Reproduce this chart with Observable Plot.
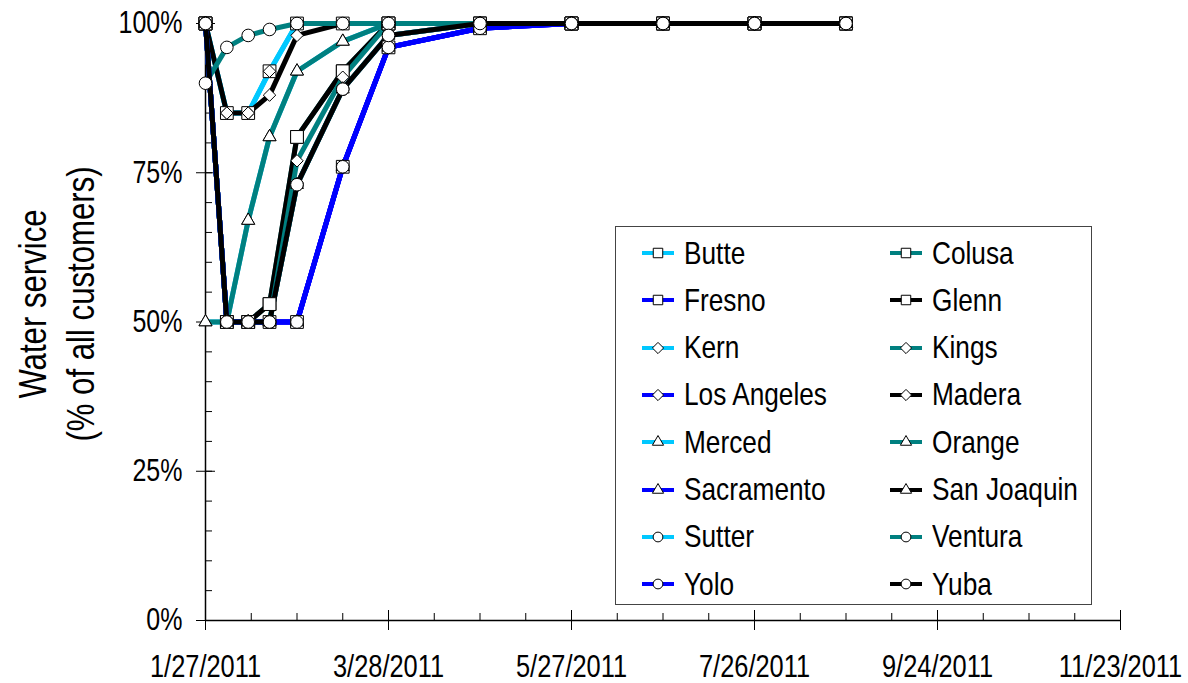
<!DOCTYPE html>
<html><head><meta charset="utf-8">
<script src="https://cdn.jsdelivr.net/npm/d3@7"></script>
<script src="https://cdn.jsdelivr.net/npm/@observablehq/plot@0.6"></script>
<style>
body{margin:0;background:#fff;}
#wrap{position:relative;width:1188px;height:683px;font-family:"Liberation Sans",Arial,sans-serif;}
#legend{position:absolute;left:615px;top:226px;width:477px;height:379px;border:1.5px solid #444;box-sizing:border-box;background:#fff}
.item{position:absolute;display:flex;align-items:center;height:40px;font-size:32px;color:#000;white-space:nowrap}
.item svg{margin-right:8px;flex:none}
.item span{display:inline-block;transform:scaleX(0.82);transform-origin:left center}
</style></head><body><div id="wrap"></div>
<script>
// ---- data ----
const dates = ["2011-01-27","2011-02-03","2011-02-10","2011-02-17","2011-02-26","2011-03-13","2011-03-28","2011-04-27","2011-05-27","2011-06-26","2011-07-26","2011-08-25"];
const counties = ["Butte","Colusa","Fresno","Glenn","Kern","Kings","Los Angeles","Madera","Merced","Orange","Sacramento","San Joaquin","Sutter","Ventura","Yolo","Yuba"];
const colors = ["#00C8FF","#008080","#0000FF","#000000","#00C8FF","#008080","#0000FF","#000000","#00C8FF","#008080","#0000FF","#000000","#00C8FF","#008080","#0000FF","#000000"];
const symbols = ["square","square","square","square","diamond2","diamond2","diamond2","diamond2","triangle2","triangle2","triangle2","triangle2","circle","circle","circle","circle"];

const butte       = [100, 85, 85, 92, 100, 100, 100, 100, 100, 100, 100, 100];
const colusa      = [100, 50, 50, 53, 81, 92, 100, 100, 100, 100, 100, 100];
const fresno      = [100, 50, 50, 50, 50, 76, 96, 99.2, 100, 100, 100, 100];
const glenn       = [100, 50, 50, 53, 81, 92, 100, 100, 100, 100, 100, 100];
const kern        = [100, 85, 85, 92, 100, 100, 100, 100, 100, 100, 100, 100];
const kings       = [100, 50, 50, 50, 77, 91, 100, 100, 100, 100, 100, 100];
const losAngeles  = [100, 50, 50, 50, 50, 76, 96, 99.2, 100, 100, 100, 100];
const madera      = [100, 85, 85, 88, 98, 100, 100, 100, 100, 100, 100, 100];
const merced      = [50, 50, 67, 81, 92, 97, 100, 100, 100, 100, 100, 100];
const orange      = [50, 50, 67, 81, 92, 97, 100, 100, 100, 100, 100, 100];
const sacramento  = [100, 50, 50, 50, 50, 76, 96, 99.2, 100, 100, 100, 100];
const sanJoaquin  = [100, 50, 50, 50, 73, 89, 98, 100, 100, 100, 100, 100];
const sutter      = [100, 50, 50, 50, 73, 89, 98, 100, 100, 100, 100, 100];
const ventura     = [90, 96, 98, 99, 100, 100, 100, 100, 100, 100, 100, 100];
const yolo        = [100, 50, 50, 50, 50, 76, 96, 99.2, 100, 100, 100, 100];
const yuba        = [100, 50, 50, 50, 73, 89, 98, 100, 100, 100, 100, 100];
const seriesValues = [butte, colusa, fresno, glenn, kern, kings, losAngeles, madera, merced, orange, sacramento, sanJoaquin, sutter, ventura, yolo, yuba];

const xTickLabels = ["1/27/2011","3/28/2011","5/27/2011","7/26/2011","9/24/2011","11/23/2011"];
const yTicks = [0, 25, 50, 75, 100];
const yLabel = ["Water service", "(% of all customers)"];

// ---- build ----
const parse = d3.utcParse("%Y-%m-%d");
const parseTick = d3.utcParse("%m/%d/%Y");
const fmt = d3.utcFormat("%-m/%-d/%Y");
const majorX = xTickLabels.map(parseTick);
const x0 = majorX[0], x1 = majorX[majorX.length - 1];
const minorX = d3.utcDay.range(x0, d3.utcDay.offset(x1, 1), 15);
const minorY = d3.range(0, 101, 5);

const rows = counties.flatMap((c, i) => seriesValues[i].map((v, j) => ({county: c, date: parse(dates[j]), value: v, idx: i})));

const W = 1188, H = 683, mL = 205, mR = 68, mT = 23, mB = 63;
const pw = W - mL - mR, ph = H - mT - mB;
const font = '"Liberation Sans",Arial,sans-serif';
const rFor = {square: 7.2, diamond2: 5.6, triangle2: 6.2, circle: 6.3};

const lineMarks = counties.map((c, i) => Plot.line(rows.filter(d => d.idx === i), {x: "date", y: "value", stroke: colors[i], strokeWidth: 5}));
const dotMarks = counties.map((c, i) => Plot.dot(rows.filter(d => d.idx === i), {x: "date", y: "value", symbol: () => symbols[i], r: rFor[symbols[i]], fill: "white", stroke: "black", strokeWidth: 1}));

const chart = Plot.plot({
  width: W, height: H,
  marginLeft: mL, marginRight: mR, marginTop: mT, marginBottom: mB,
  style: {fontFamily: font, background: "white", color: "black"},
  x: {type: "utc", domain: [x0, x1]},
  y: {domain: [0, 100]},
  symbol: {type: "identity"},
  marks: [
    Plot.ruleY(minorY, {insetRight: pw - 7, stroke: "black", strokeWidth: 1}),
    Plot.ruleY(yTicks, {insetRight: pw - 10, stroke: "black", strokeWidth: 1}),
    Plot.ruleX(minorX, {insetTop: ph - 7, stroke: "black", strokeWidth: 1}),
    Plot.ruleX(majorX, {insetTop: ph - 10, stroke: "black", strokeWidth: 1}),
    Plot.ruleX([x0], {stroke: "black", strokeWidth: 1.5}),
    Plot.ruleY([0], {stroke: "black", strokeWidth: 1.5}),
    Plot.axisY({ticks: yTicks, tickSize: 9, tickPadding: 14, tickFormat: d => d + "%", fontSize: 30.5, label: null}),
    Plot.axisX({ticks: majorX, tickSize: 10, tickPadding: 24, tickFormat: fmt, fontSize: 31, label: null}),
    ...lineMarks,
    ...dotMarks,
    Plot.text([yLabel[0]], {text: d => d, frameAnchor: "left", textAnchor: "middle", rotate: -90, dx: -172, dy: -18, fontSize: 38}),
    Plot.text([yLabel[1]], {text: d => d, frameAnchor: "left", textAnchor: "middle", rotate: -90, dx: -124, dy: -18, fontSize: 38})
  ]
});
// narrow the type (Arial Narrow look) by scaling each text along its writing direction
chart.querySelectorAll("text").forEach(t => {
  const tr = t.getAttribute("transform");
  if (tr) t.setAttribute("transform", tr + " scale(0.82,1)");
  else {
    const x = +(t.getAttribute("x") || 0), y = +(t.getAttribute("y") || 0);
    t.removeAttribute("x"); t.removeAttribute("y");
    t.setAttribute("transform", `translate(${x},${y}) scale(0.82,1)`);
  }
});
const wrap = document.getElementById("wrap");
wrap.appendChild(chart);

// ---- legend ----
const legend = d3.select(wrap).append("div").attr("id", "legend");
const colX = [24, 272], rowY0 = 6, rowStep = 47.3;
const symMap = {square: d3.symbolSquare, diamond2: d3.symbolDiamond2, triangle2: d3.symbolTriangle2, circle: d3.symbolCircle};
counties.forEach((c, i) => {
  const col = i % 2, row = Math.floor(i / 2);
  const item = legend.append("div").attr("class", "item")
    .style("left", colX[col] + "px").style("top", (rowY0 + row * rowStep) + "px");
  const svg = item.append("svg").attr("width", 36).attr("height", 20);
  svg.append("line").attr("x1", 2).attr("x2", 34).attr("y1", 10).attr("y2", 10).attr("stroke", colors[i]).attr("stroke-width", 4);
  const sz = {square: 90, diamond2: 80, triangle2: 90, circle: 75}[symbols[i]];
  svg.append("path").attr("d", d3.symbol(symMap[symbols[i]], sz)()).attr("transform", "translate(18,10)").attr("fill", "white").attr("stroke", "black").attr("stroke-width", 1);
  item.append("span").text(c);
});
</script></body></html>
